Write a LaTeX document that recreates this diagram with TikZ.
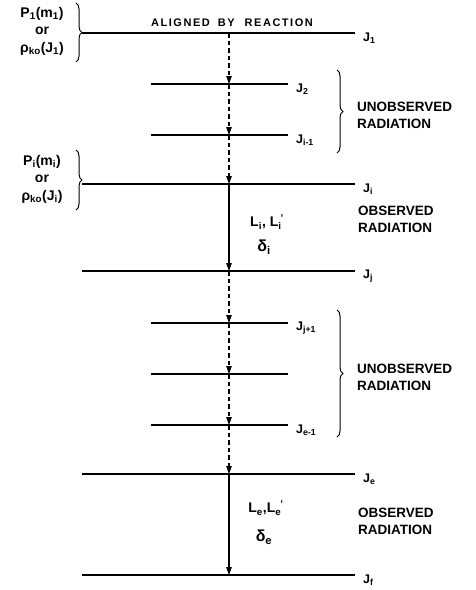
\documentclass[tikz,border=0pt]{standalone}
\usepackage{fontspec}
\setmainfont{Liberation Sans}
\usetikzlibrary{positioning,arrows.meta,decorations.pathreplacing}

\newcommand{\low}[1]{\textsubscript{#1}}
\newcommand{\lowprime}[1]{\textsubscript{#1}\kern-1pt\textsuperscript{'}}

\begin{document}
\begin{tikzpicture}[
    x=1pt, y=-1pt,
    level/.style={line width=1.1pt},
    trans/.style={line width=1.1pt, -{Triangle[length=8pt,width=5.5pt]}},
    unobs/.style={trans, dash pattern=on 4.5pt off 3pt},
    tag/.style={font=\bfseries\fontsize{12.5}{13}\selectfont, inner sep=0pt, anchor=west},
    note/.style={font=\bfseries\fontsize{13.5}{17}\selectfont, align=left, inner sep=0pt, anchor=west},
    mult/.style={font=\bfseries\fontsize{14}{17}\selectfont, align=center, inner sep=0pt},
    pop/.style={font=\bfseries\fontsize{14}{17.5}\selectfont, align=center, inner sep=0pt},
    curly/.style={decorate, decoration={brace, amplitude=6pt}, line width=1pt}
]
\useasboundingbox (0,0) rectangle (476,590);

% energy levels
\foreach \n/\y/\xa/\xb/\lab in {1/33/82/355/{J\low{1}}, 2/84/151/288/{J\low{2}},
    3/135/151/288/{J\low{i-1}}, 4/184/82/355/{J\low{i}}, 5/271/82/355/{J\low{j}},
    6/323/151/288/{J\low{j+1}}, 7/374/151/288/{}, 8/425/151/288/{J\low{e-1}},
    9/474/82/355/{J\low{e}}, 10/575/82/355/{J\low{f}}} {
  \draw[level] (\xa,\y) -- (\xb,\y);
  \coordinate (t\n) at (229,\y);
  \node[tag] (j\n) at (\xb+8,\y+5) {\lab};
}

\node[font=\bfseries\fontsize{11}{12}\selectfont\addfontfeature{LetterSpace=14}, inner sep=0pt]
    (aligned) at (232,23) {ALIGNED\hspace{8pt}BY\hspace{10pt}REACTION};

% transitions
\draw[unobs] (t1) -- (t2);
\draw[unobs] (t2) -- (t3);
\draw[unobs] (t3) -- (t4);
\draw[trans] (t4) -- (t5);
\draw[unobs] (t5) -- (t6);
\draw[unobs] (t6) -- (t7);
\draw[unobs] (t7) -- (t8);
\draw[unobs] (t8) -- (t9);
\draw[trans] (t9) -- (t10);

\node[mult] (mi) at (267,222) {L\low{i}, L\lowprime{i}};
\node[mult, font=\bfseries\fontsize{16}{17}\selectfont] (di) at (264,247) {δ\low{i}};
\node[mult] (me) at (266,508) {L\low{e},L\lowprime{e}};
\node[mult, font=\bfseries\fontsize{16}{17}\selectfont] (de) at (264,537) {δ\low{e}};

% populations
\node[pop] (p1) at (42,31) {P\low{1}(m\low{1})\\or\\ρ\low{ko}(J\low{1})};
\draw[curly] (76,3) -- (76,62);
\node[pop] (p4) at (42,179) {P\low{i}(m\low{i})\\or\\ρ\low{ko}(J\low{i})};
\draw[curly] (76,150) -- (76,210);

% radiation
\draw[curly] (337,70) -- (337,153);
\node[note] (u1) at (357,115) {UNOBSERVED\\RADIATION};
\node[note] (o1) at (358,219) {OBSERVED\\RADIATION};
\draw[curly] (337,310) -- (337,437);
\node[note] (u2) at (357,377) {UNOBSERVED\\RADIATION};
\node[note] (o2) at (358,521) {OBSERVED\\RADIATION};
\end{tikzpicture}
\end{document}
